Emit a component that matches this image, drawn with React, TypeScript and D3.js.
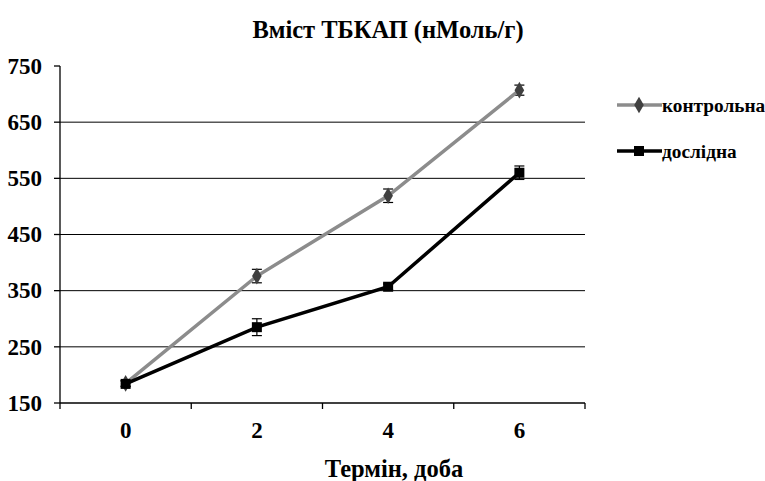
import * as d3 from 'd3';

const days = ['0', '2', '4', '6'];
const controlValues = [185, 376, 519, 707];
const controlErrors = [5, 12, 12, 9];
const testValues = [184, 285, 357, 560];
const testErrors = [5, 15, 5, 12];
const yTicks = [150, 250, 350, 450, 550, 650, 750];

const series = [
  { name: 'контрольна', values: controlValues, errors: controlErrors, line: '#8c8c8c', marker: '#404040', shape: 'diamond' },
  { name: 'дослідна', values: testValues, errors: testErrors, line: '#000000', marker: '#000000', shape: 'square' },
];

const width = 765;
const height = 481;
const margin = { top: 66, right: 180, bottom: 78, left: 60 };
const font = 'Liberation Serif';

const x = d3.scaleBand().domain(days).range([margin.left, width - margin.right]).padding(0);
const y = d3.scaleLinear().domain([150, 750]).range([height - margin.bottom, margin.top]);
const cx = (d: string) => (x(d) || 0) + x.bandwidth() / 2;

const line = d3.line<number>()
  .x((_, i) => cx(days[i]))
  .y(d => y(d));

function Marker({ shape, color, px, py }: { shape: string; color: string; px: number; py: number }) {
  if (shape === 'diamond') {
    return <path d={d3.symbol(d3.symbolDiamond, 80)() || ''} transform={`translate(${px},${py})`} fill={color} />;
  }
  return <rect x={px - 5} y={py - 5} width={10} height={10} fill={color} />;
}

function T(props: any) {
  return <text fontFamily={font} fontWeight="bold" {...props} />;
}

export default function App() {
  const bounds = days.map(d => x(d) || 0).concat([width - margin.right]);
  return (
    <svg width={width} height={height} style={{ position: 'absolute', left: 0, top: 0, background: '#fff' }}>
      <T x={388} y={38} textAnchor="middle" fontSize={24.5}>Вміст ТБКАП (нМоль/г)</T>

      {yTicks.filter(t => t > 150 && t < 750).map(t => (
        <line key={t} x1={margin.left} x2={width - margin.right} y1={y(t)} y2={y(t)} stroke="#000" strokeWidth={1} />
      ))}

      {/* y axis */}
      <line x1={margin.left} x2={margin.left} y1={y(750)} y2={y(150)} stroke="#000" strokeWidth={1.3} />
      {yTicks.map(t => (
        <g key={t}>
          <line x1={margin.left - 6} x2={margin.left} y1={y(t)} y2={y(t)} stroke="#000" strokeWidth={1.3} />
          <T x={margin.left - 18} y={y(t)} dy="0.34em" textAnchor="end" fontSize={23}>{t}</T>
        </g>
      ))}

      {/* x axis */}
      <line x1={margin.left} x2={width - margin.right} y1={y(150)} y2={y(150)} stroke="#000" strokeWidth={1.3} />
      {bounds.map(b => (
        <line key={b} x1={b} x2={b} y1={y(150)} y2={y(150) + 6} stroke="#000" strokeWidth={1.3} />
      ))}
      {days.map(d => (
        <T key={d} x={cx(d)} y={y(150) + 35} textAnchor="middle" fontSize={23}>{d}</T>
      ))}
      <T x={394} y={477} textAnchor="middle" fontSize={24.5}>Термін, доба</T>

      {series.map(s => (
        <g key={s.name}>
          {s.values.map((v, i) => {
            const px = cx(days[i]);
            const e = s.errors[i];
            return (
              <g key={i} stroke="#000" strokeWidth={1.2}>
                <line x1={px} x2={px} y1={y(v - e)} y2={y(v + e)} />
                <line x1={px - 5} x2={px + 5} y1={y(v - e)} y2={y(v - e)} />
                <line x1={px - 5} x2={px + 5} y1={y(v + e)} y2={y(v + e)} />
              </g>
            );
          })}
          <path d={line(s.values) || ''} fill="none" stroke={s.line} strokeWidth={3.5} />
          {s.values.map((v, i) => (
            <Marker key={i} shape={s.shape} color={s.marker} px={cx(days[i])} py={y(v)} />
          ))}
        </g>
      ))}

      {/* legend */}
      {series.map((s, i) => (
        <g key={s.name} transform={`translate(617,${105 + i * 46})`}>
          <line x1={0} x2={45} stroke={s.line} strokeWidth={3.5} />
          <Marker shape={s.shape} color={s.marker} px={22} py={0} />
          <T x={45} y={7} fontSize={19.3}>{s.name}</T>
        </g>
      ))}
    </svg>
  );
}
